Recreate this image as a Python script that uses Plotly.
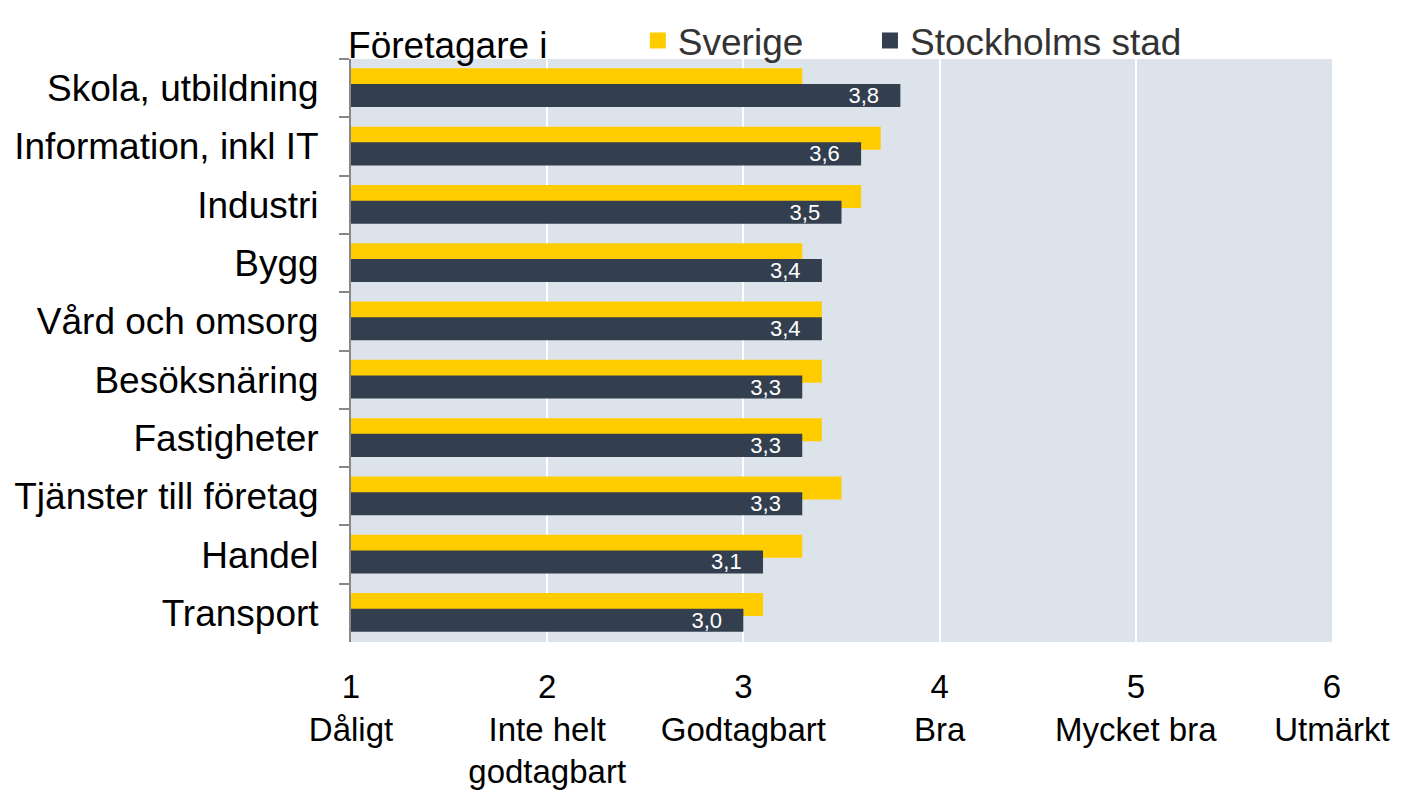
import plotly.graph_objects as go

categories = ["Skola, utbildning", "Information, inkl IT", "Industri", "Bygg",
              "Vård och omsorg", "Besöksnäring", "Fastigheter",
              "Tjänster till företag", "Handel", "Transport"]
sverige = [3.3, 3.7, 3.6, 3.3, 3.4, 3.4, 3.4, 3.5, 3.3, 3.1]
stockholm = [3.8, 3.6, 3.5, 3.4, 3.4, 3.3, 3.3, 3.3, 3.1, 3.0]
tick_vals = [1, 2, 3, 4, 5, 6]
tick_text = ["1<br>Dåligt", "2<br>Inte helt<br>godtagbart", "3<br>Godtagbart",
             "4<br>Bra", "5<br>Mycket bra", "6<br>Utmärkt"]

FONT = "Liberation Sans, Arial, sans-serif"
YELLOW = "#FFCC00"
DARK = "#333F4F"
NB = "\u00a0"

fig = go.Figure()
fig.add_trace(go.Bar(
    y=categories, x=sverige, orientation="h", name="Sverige",
    marker=dict(color=YELLOW, line=dict(width=0)),
    width=0.395, offset=-0.34, showlegend=False,
))
fig.add_trace(go.Bar(
    y=categories, x=stockholm, orientation="h", name="Stockholms stad",
    marker=dict(color=DARK, line=dict(width=0)),
    width=0.395, offset=-0.07, showlegend=False,
    texttemplate="%{x:.1f}" + NB * 3, textposition="inside", insidetextanchor="end",
    textfont=dict(color="white", size=22, family=FONT),
    textangle=0,
))
# legend swatches
fig.add_trace(go.Scatter(x=[None], y=[None], mode="markers", name="Sverige" + NB * 6,
                         marker=dict(symbol="square", size=22, color=YELLOW)))
fig.add_trace(go.Scatter(x=[None], y=[None], mode="markers", name="Stockholms stad",
                         marker=dict(symbol="square", size=22, color=DARK)))

fig.update_layout(
    width=1398, height=785,
    margin=dict(l=343, r=74, t=51, b=151, autoexpand=False),
    paper_bgcolor="white", plot_bgcolor="#DCE3EA",
    barmode="overlay",
    separators=", ",
    font=dict(family=FONT, size=36, color="black"),
    uniformtext=dict(mode="show", minsize=22),
    showlegend=True,
    legend=dict(
        orientation="h", x=-0.005, xanchor="left", y=1.031, yanchor="middle",
        title=dict(text="Företagare i" + NB * 8, side="left", font=dict(size=37, color="black")),
        font=dict(size=37, color="#333333"),
        bgcolor="rgba(0,0,0,0)", itemwidth=30, traceorder="normal",
    ),
    xaxis=dict(
        range=[1, 6], tickvals=tick_vals, ticktext=tick_text,
        showgrid=True, gridcolor="white", gridwidth=2,
        zeroline=False, showline=False, automargin=False,
        ticks="outside", ticklen=15, tickcolor="rgba(0,0,0,0)",
        tickfont=dict(size=33, color="black"),
    ),
    yaxis=dict(
        categoryorder="array", categoryarray=categories, autorange="reversed",
        showline=True, linecolor="#888888", linewidth=2, automargin=False,
        ticks="outside", tickson="boundaries", ticklen=10, tickcolor="#888888", tickwidth=2,
        showgrid=False, zeroline=False,
        tickfont=dict(size=37, color="black"),
        ticklabelstandoff=23,
    ),
)

fig.write_html("out.html")
